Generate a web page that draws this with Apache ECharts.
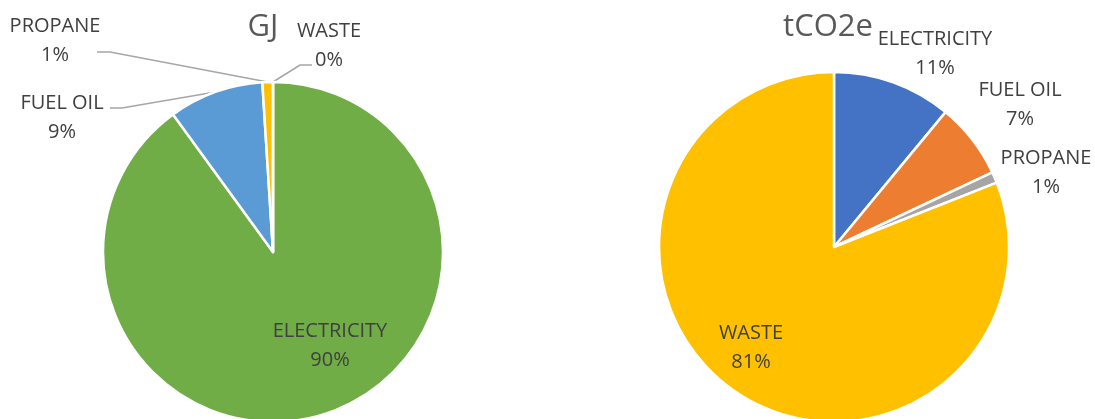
<!DOCTYPE html>
<html>
<head>
<meta charset="utf-8">
<script src="https://cdn.jsdelivr.net/npm/echarts@6/dist/echarts.min.js"></script>
<style>
  html, body { margin: 0; padding: 0; background: #ffffff; }
  #chart { width: 1095px; height: 419px; }
</style>
</head>
<body>
<div id="chart"></div>
<script>
// Energy use (GJ) and emissions (tCO2e) shares by source
const gjCategories = ['ELECTRICITY', 'FUEL OIL', 'PROPANE', 'WASTE'];
const gjValues = [90, 9, 1, 0];
const gjColors = ['#70AD47', '#5B9BD5', '#FFC000', '#A5A5A5'];

const co2Categories = ['ELECTRICITY', 'FUEL OIL', 'PROPANE', 'WASTE'];
const co2Values = [11, 7, 1, 81];
const co2Colors = ['#4472C4', '#ED7D31', '#A5A5A5', '#FFC000'];

const chartTitles = ['GJ', 'tCO2e'];

// Where each label sits, and the bend / end of its leader line (if any)
const labelPlacement = [
  {
    'ELECTRICITY': { at: [330, 346] },
    'FUEL OIL':    { at: [62, 118], bend: [122, 108], end: [110, 108] },
    'PROPANE':     { at: [55, 41],  bend: [110, 52],  end: [97, 52] },
    'WASTE':       { at: [329, 46], bend: [300, 65],  end: [312, 65] }
  },
  {
    'ELECTRICITY': { at: [935, 54] },
    'FUEL OIL':    { at: [1020, 105] },
    'PROPANE':     { at: [1046, 173] },
    'WASTE':       { at: [751, 348] }
  }
];

const chart = echarts.init(document.getElementById('chart'), null, { renderer: 'canvas' });

function buildData(names, values, colors, placement) {
  return names.map((n, i) => ({
    name: n,
    value: values[i],
    itemStyle: { color: colors[i] },
    labelLine: { show: !!placement[n].bend }
  }));
}

function makeSeries(idx, names, values, colors, center, radius) {
  const placement = labelPlacement[idx];
  return {
    type: 'pie',
    center: center,
    radius: radius,
    startAngle: 90,
    clockwise: true,
    avoidLabelOverlap: false,
    animation: false,
    silent: true,
    itemStyle: { borderColor: '#ffffff', borderWidth: 2.5 },
    label: {
      show: true,
      position: 'outside',
      formatter: p => p.name + '\n' + Math.round(p.percent) + '%',
      fontFamily: 'Open Sans',
      fontSize: 20,
      lineHeight: 29,
      color: '#404040',
      align: 'center'
    },
    labelLine: {
      show: true,
      smooth: false,
      lineStyle: { color: '#A6A6A6', width: 1.5 }
    },
    labelLayout: function (params) {
      const name = names[params.dataIndex];
      const spot = placement[name];
      const out = {
        x: spot.at[0],
        y: spot.at[1],
        align: 'center',
        verticalAlign: 'middle'
      };
      if (spot.bend && params.labelLinePoints) {
        out.labelLinePoints = [params.labelLinePoints[0], spot.bend, spot.end];
      }
      return out;
    },
    data: buildData(names, values, colors, placement)
  };
}

const titleStyle = { fontFamily: 'Open Sans', fontSize: 31, fontWeight: 'normal', color: '#595959' };

chart.setOption({
  backgroundColor: '#ffffff',
  title: [
    { text: chartTitles[0], left: 258, top: 7, textAlign: 'center', textStyle: titleStyle },
    { text: chartTitles[1], left: 823, top: 7, textAlign: 'center', textStyle: titleStyle }
  ],
  series: [
    makeSeries(0, gjCategories, gjValues, gjColors, [273, 252], 170),
    makeSeries(1, co2Categories, co2Values, co2Colors, [834, 247], 175)
  ]
});
</script>
</body>
</html>
